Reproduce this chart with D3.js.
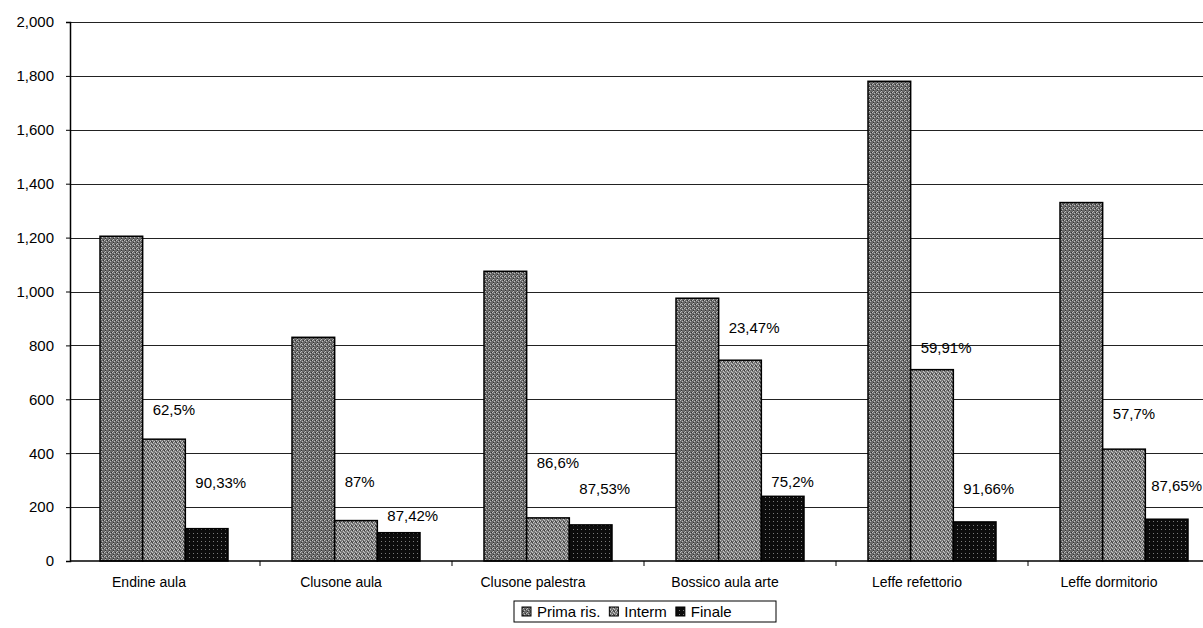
<!DOCTYPE html>
<html lang="it">
<head>
<meta charset="utf-8">
<title>Prima ris. / Interm / Finale</title>
<script src="https://cdn.jsdelivr.net/npm/d3@7"></script>
<style>
  body { margin: 0; background: #fff; }
  svg { display: block; font-family: "Liberation Sans", Arial, sans-serif; }
  .tick text { fill: #000; }
</style>
</head>
<body>
<script>
// categories and series
var categories = ["Endine aula", "Clusone aula", "Clusone palestra", "Bossico aula arte", "Leffe refettorio", "Leffe dormitorio"];
var series = ["Prima ris.", "Interm", "Finale"];
var prima = [1205, 830, 1075, 975, 1780, 1330];
var interm = [452, 150, 160, 745, 710, 415];
var finale = [120, 105, 134, 240, 145, 155];

// percentage labels (first one beside Interm, second beside Finale), with the value level they sit at
var pctInterm = ["62,5%", "87%", "86,6%", "23,47%", "59,91%", "57,7%"];
var pctIntermLevel = [560, 293, 364, 865, 790, 545];
var pctFinale = ["90,33%", "87,42%", "87,53%", "75,2%", "91,66%", "87,65%"];
var pctFinaleLevel = [290, 167, 267, 293, 267, 280];

var yTicks = [0, 200, 400, 600, 800, 1000, 1200, 1400, 1600, 1800, 2000];

var w = 1203, h = 628;
var svg = d3.select("body").append("svg").attr("width", w).attr("height", h);

// dithered fills, like the scanned print
var defs = svg.append("defs");
function dither(id, base, light, dark, lightCells, darkCells) {
  var p = defs.append("pattern").attr("id", id)
    .attr("width", 4).attr("height", 4).attr("patternUnits", "userSpaceOnUse");
  p.append("rect").attr("width", 4).attr("height", 4).attr("fill", base);
  lightCells.forEach(function(c) {
    p.append("rect").attr("x", c[0]).attr("y", c[1]).attr("width", 1).attr("height", 1).attr("fill", light);
  });
  darkCells.forEach(function(c) {
    p.append("rect").attr("x", c[0]).attr("y", c[1]).attr("width", 1).attr("height", 1).attr("fill", dark);
  });
}
dither("pPrima", "#6a6a6a", "#bcbcbc", "#333", [[0,0],[2,1],[1,3]], [[3,0],[1,2]]);
dither("pInterm", "#7a7a7a", "#c8c8c8", "#3c3c3c", [[0,0],[2,1],[1,2],[3,3]], [[3,1],[0,2]]);
dither("pFinale", "#0c0c0c", "#7a7a7a", "#000", [[1,1]], []);
var fills = ["url(#pPrima)", "url(#pInterm)", "url(#pFinale)"];

var plotLeft = 70, plotTop = 22, plotBottom = 561;

var y = d3.scaleLinear().domain([0, 2000]).range([plotBottom, plotTop]);
var x0 = d3.scaleBand().domain(categories).range([68, 1220])
  .paddingInner(1 / 3).paddingOuter(1 / 6);
var x1 = d3.scaleBand().domain(series).range([0, x0.bandwidth()]);

// gridlines
svg.append("g").selectAll("line").data(yTicks.slice(1)).enter().append("line")
  .attr("x1", plotLeft).attr("x2", w)
  .attr("y1", function(d) { return Math.round(y(d)) + 0.5; })
  .attr("y2", function(d) { return Math.round(y(d)) + 0.5; })
  .attr("stroke", "#222").attr("stroke-width", 1);

// y axis
var yAxis = d3.axisLeft(y).tickValues(yTicks).tickFormat(d3.format(",")).tickSize(4).tickPadding(12);
var gy = svg.append("g").attr("transform", "translate(" + plotLeft + ",0)").call(yAxis);
gy.select(".domain").attr("stroke", "#000").attr("stroke-width", 1.5);
gy.selectAll(".tick line").attr("stroke", "#000");
gy.selectAll("text").attr("font-size", 15).attr("font-family", "Liberation Sans, Arial, sans-serif");

// bars
var rows = categories.map(function(c, i) { return [prima[i], interm[i], finale[i]]; });
var groups = svg.append("g").selectAll("g").data(rows).enter().append("g")
  .attr("transform", function(d, i) { return "translate(" + x0(categories[i]) + ",0)"; });
groups.selectAll("rect").data(function(d) { return d; }).enter().append("rect")
  .attr("x", function(d, j) { return x1(series[j]); })
  .attr("y", function(d) { return y(d); })
  .attr("width", x1.bandwidth())
  .attr("height", function(d) { return y(0) - y(d); })
  .attr("fill", function(d, j) { return fills[j]; })
  .attr("stroke", "#000").attr("stroke-width", 1.5);

// x axis
var xAxis = d3.axisBottom(x0).tickSize(0).tickPadding(16);
var gx = svg.append("g").attr("transform", "translate(0," + plotBottom + ")").call(xAxis);
gx.select(".domain").attr("d", "M" + plotLeft + ",0H" + w).attr("stroke", "#000").attr("stroke-width", 1.5);
gx.selectAll("text").attr("font-size", 14).attr("dx", -15).attr("font-family", "Liberation Sans, Arial, sans-serif");
// tick marks between categories
svg.append("g").selectAll("line").data(categories.slice(1)).enter().append("line")
  .attr("x1", function(d) { return x0(d) - x0.step() * x0.paddingInner() / 2; })
  .attr("x2", function(d) { return x0(d) - x0.step() * x0.paddingInner() / 2; })
  .attr("y1", plotBottom).attr("y2", plotBottom + 5)
  .attr("stroke", "#000");

// percentage labels
var lab = svg.append("g").attr("font-size", 15).attr("fill", "#000");
lab.selectAll("text.a").data(pctInterm).enter().append("text").attr("class", "a")
  .attr("x", function(d, i) { return x0(categories[i]) + x1("Interm") + 10; })
  .attr("y", function(d, i) { return y(pctIntermLevel[i]); })
  .attr("dy", "0.35em")
  .text(function(d) { return d; });
lab.selectAll("text.b").data(pctFinale).enter().append("text").attr("class", "b")
  .attr("y", function(d, i) { return y(pctFinaleLevel[i]); })
  .attr("dy", "0.35em")
  .text(function(d) { return d; })
  .attr("x", function(d, i) {
    var xs = x0(categories[i]) + x1("Finale") + 10;
    // keep the last label inside the picture, as the reference does
    return Math.min(xs, w - this.getComputedTextLength() - 1);
  });

// legend
var legend = svg.append("g").attr("transform", "translate(514,601)");
legend.append("rect").attr("width", 262).attr("height", 21)
  .attr("fill", "#fff").attr("stroke", "#000").attr("stroke-width", 1);
var lx = 8;
series.forEach(function(s, j) {
  legend.append("rect").attr("x", lx).attr("y", 6).attr("width", 9).attr("height", 9)
    .attr("fill", fills[j]).attr("stroke", "#000").attr("stroke-width", 1);
  var t = legend.append("text").attr("x", lx + 15).attr("y", 16)
    .attr("font-size", 15).text(s);
  lx += 15 + t.node().getComputedTextLength() + 9;
});
</script>
</body>
</html>
